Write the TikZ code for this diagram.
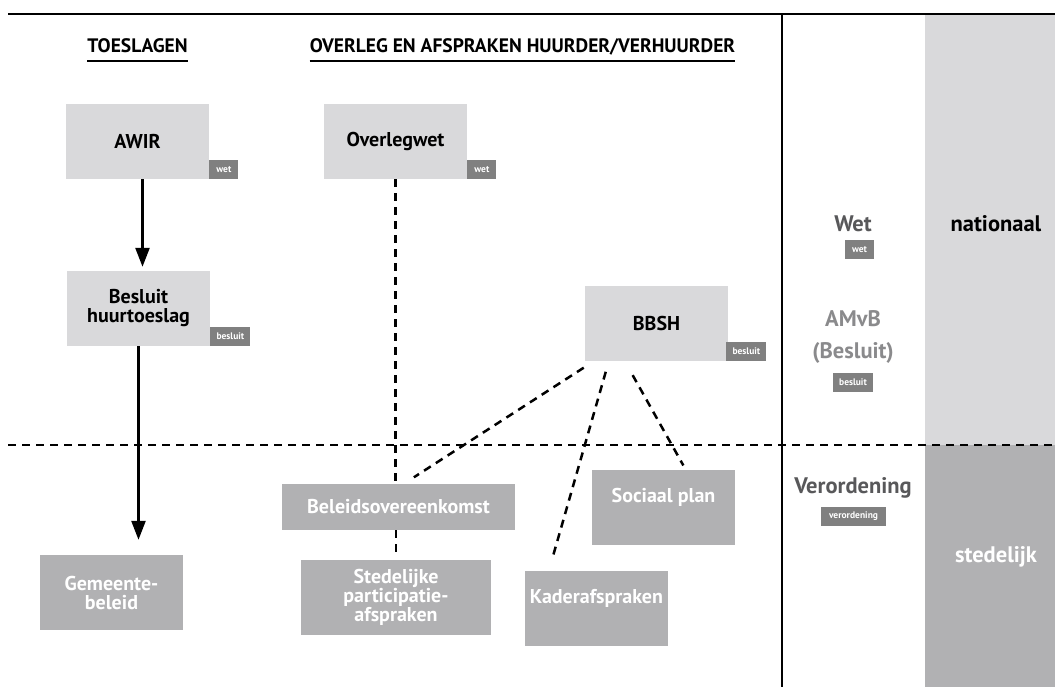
\documentclass[tikz,border=0pt]{standalone}
\usepackage{fontspec}
\setmainfont{PT Sans}
\usetikzlibrary{arrows.meta}
\definecolor{lichtgrijs}{HTML}{D9D9DB}
\definecolor{donkergrijs}{HTML}{B1B1B3}
\definecolor{labelgrijs}{HTML}{808080}
\definecolor{tekstgrijs}{HTML}{58585A}
\definecolor{amvbgrijs}{HTML}{8A8A8C}

\begin{document}
\begin{tikzpicture}
            [x=1pt, y=-1pt, font=\bfseries,
             rijksblok/.style={fill=lichtgrijs, minimum width=143pt, minimum height=75pt, inner sep=0pt, align=center, font=\bfseries\fontsize{20}{19}\selectfont},
             stadsblok/.style={rijksblok, fill=donkergrijs, text=white},
             soortlabel/.style={fill=labelgrijs, text=white, inner sep=0pt, minimum height=19pt, font=\bfseries\fontsize{9.5}{10}\selectfont},
             kop/.style={inner sep=0pt, anchor=base, font=\bfseries\fontsize{19.5}{21}\selectfont},
             niveau/.style={inner sep=0pt, anchor=base, font=\bfseries\fontsize{22.5}{24}\selectfont},
             pijl/.style={line width=2.5pt, -{Triangle[length=19pt,width=14pt]}},
             streep/.style={line width=2.5pt, dash pattern=on 8pt off 6pt}]
            \useasboundingbox (0,0) rectangle (1055,687);

            % Draw the level columns
            \fill[lichtgrijs] (925,14) rectangle (1055,445);
            \fill[donkergrijs] (925,445) rectangle (1055,687);

            % Draw the frame lines
            \draw[line width=2.6pt] (8,14) -- (1055,14);
            \draw[line width=2.6pt] (782,14) -- (782,687);
            \draw[streep] (8,445) -- (1055,445);

            % Headings
            \node[kop] (toes) at (137.5,53) {TOESLAGEN};
            \node[kop] (overleg) at (522.5,53) {OVERLEG EN AFSPRAKEN HUURDER/VERHUURDER};
            \draw[line width=1.6pt] ([yshift=-8pt]toes.base west) -- ([yshift=-8pt]toes.base east);
            \draw[line width=1.6pt] ([yshift=-8pt]overleg.base west) -- ([yshift=-8pt]overleg.base east);

            % Place the national boxes
            \node[rijksblok] (awir) at (137.5,141.5) {AWIR};
            \node[rijksblok] (ovw) at (395.5,141.5) {Overlegwet};
            \node[rijksblok] (besl) at (138.5,308.5) {Besluit\\huurtoeslag};
            \node[rijksblok] (bbsh) at (656.5,323.5) {BBSH};

            % Place the city boxes
            \node[stadsblok, minimum width=233pt, minimum height=46pt] (bel) at (398.5,507) {Beleidsovereenkomst};
            \node[stadsblok] (gem) at (111.5,592.5) {Gemeente-\\beleid};
            \node[stadsblok, minimum width=190pt] (stpa) at (396,597.5) {Stedelijke\\participatie-\\afspraken};
            \node[stadsblok, text height=32pt, text depth=43pt] (soc) at (663.5,507.5) {Sociaal plan};
            \node[stadsblok, text height=32pt, text depth=43pt] (kad) at (596.5,608.5) {Kaderafspraken};

            % Type labels on the boxes
            \node[soortlabel, anchor=south west, minimum width=29pt] (awirtype) at (awir.south east) {wet};
            \node[soortlabel, anchor=south west, minimum width=29pt] (ovwtype) at (ovw.south east) {wet};
            \node[soortlabel, anchor=south west, minimum width=40pt] (besltype) at (besl.south east) {besluit};
            \node[soortlabel, anchor=south west, minimum width=40pt] (bbshtype) at ([xshift=-2pt]bbsh.south east) {besluit};

            % Legend of the levels
            \node[niveau, text=tekstgrijs] (wet) at (853,232) {Wet};
            \node[soortlabel, minimum width=29pt] (wettype) at (859.5,249.5) {wet};
            \node[niveau, text=amvbgrijs] (amvb) at (853,326) {AMvB};
            \node[niveau, text=amvbgrijs] (amvbbesl) at (853,358) {(Besluit)};
            \node[soortlabel, minimum width=40pt] (amvbtype) at (853,382.5) {besluit};
            \node[niveau, text=tekstgrijs] (verord) at (853,493) {Verordening};
            \node[soortlabel, minimum width=65pt] (verordtype) at (853.5,516.5) {verordening};
            \node[niveau] (natl) at (996,232) {nationaal};
            \node[niveau, text=white] (stdl) at (996,562) {stedelijk};

            % Draw arrows
            \draw[pijl, shorten >=4pt] ([xshift=5pt]awir.south) -- ([xshift=4pt]besl.north);  % AWIR to besluit
            \draw[pijl, shorten >=15pt] (besl.south) -- (besl.south |- gem.north);        % besluit to gemeente

            % Draw dashed links
            \draw[streep] (ovw.south) -- (ovw.south |- bel.north);
            \draw[streep, shorten >=5pt] (bel.south -| stpa.north) -- (stpa.north);
            \draw[streep, shorten <=12pt, shorten >=12pt] ([xshift=9pt]bbsh.south west) -- ([xshift=122pt]bel.north west);
            \draw[streep, shorten <=11pt, shorten >=14pt] ([xshift=24pt]bbsh.south west) -- ([xshift=24pt]kad.north west);
            \draw[streep, shorten <=16pt, shorten >=5pt] ([xshift=40pt]bbsh.south west) -- ([xshift=94pt]soc.north west);
        \end{tikzpicture}
\end{document}
